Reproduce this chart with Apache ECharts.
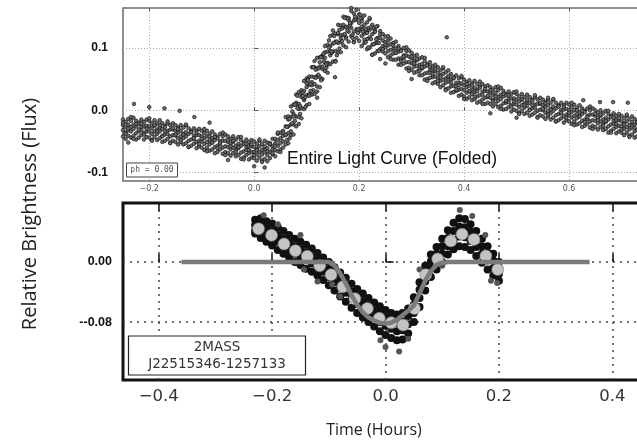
<!DOCTYPE html>
<html>
<head>
<meta charset="utf-8">
<script src="https://cdn.jsdelivr.net/npm/echarts@6/dist/echarts.min.js"></script>
<style>
  html, body { margin: 0; padding: 0; background: #fff; }
  #chart { width: 637px; height: 441px; }
</style>
</head>
<body>
<div id="chart"></div>
<script>
// ===== 上图：整条光变曲线（折叠）, y 值单位 0.001 flux =====
var topX = [
  -0.250,-0.245,-0.240,-0.235,-0.230,-0.225,-0.220,-0.215,-0.210,-0.205,
  -0.200,-0.195,-0.190,-0.185,-0.180,-0.175,-0.170,-0.165,-0.160,-0.155,
  -0.150,-0.145,-0.140,-0.135,-0.130,-0.125,-0.120,-0.115,-0.110,-0.105,
  -0.100,-0.095,-0.090,-0.085,-0.080,-0.075,-0.070,-0.065,-0.060,-0.055,
  -0.050,-0.045,-0.040,-0.035,-0.030,-0.025,-0.020,-0.015,-0.010,-0.005,
  0.000,0.005,0.010,0.015,0.020,0.025,0.030,0.035,0.040,0.045,
  0.050,0.055,0.060,0.065,0.070,0.075,0.080,0.085,0.090,0.095,
  0.100,0.105,0.110,0.115,0.120,0.125,0.130,0.135,0.140,0.145,
  0.150,0.155,0.160,0.165,0.170,0.175,0.180,0.185,0.190,0.195,
  0.200,0.205,0.210,0.215,0.220,0.225,0.230,0.235,0.240,0.245,
  0.250,0.255,0.260,0.265,0.270,0.275,0.280,0.285,0.290,0.295,
  0.300,0.305,0.310,0.315,0.320,0.325,0.330,0.335,0.340,0.345,
  0.350,0.355,0.360,0.365,0.370,0.375,0.380,0.385,0.390,0.395,
  0.400,0.405,0.410,0.415,0.420,0.425,0.430,0.435,0.440,0.445,
  0.450,0.455,0.460,0.465,0.470,0.475,0.480,0.485,0.490,0.495,
  0.500,0.505,0.510,0.515,0.520,0.525,0.530,0.535,0.540,0.545,
  0.550,0.555,0.560,0.565,0.570,0.575,0.580,0.585,0.590,0.595,
  0.600,0.605,0.610,0.615,0.620,0.625,0.630,0.635,0.640,0.645,
  0.650,0.655,0.660,0.665,0.670,0.675,0.680,0.685,0.690,0.695,
  0.700,0.705,0.710,0.715,0.720,0.725,0.730
];
var topA = [
  -15,-19,-14,-17,-12,-17,-20,-15,-19,-15,
  -17,-21,-16,-21,-16,-21,-25,-21,-24,-21,
  -24,-28,-24,-28,-24,-29,-33,-29,-33,-30,
  -33,-37,-33,-38,-34,-39,-43,-38,-42,-39,
  -42,-46,-42,-47,-43,-48,-52,-47,-51,-48,
  -50,-54,-49,-54,-49,-52,-53,-46,-46,-38,
  -36,-33,-11,-10,6,9,12,29,32,47,
  51,54,69,69,84,85,88,103,105,119,
  121,123,137,136,150,149,148,159,155,161,
  154,147,152,141,146,137,129,135,127,122,
  118,112,115,108,110,103,97,100,95,96,
  92,87,89,83,85,79,74,77,71,73,
  69,64,67,61,64,58,53,56,51,53,
  49,45,48,43,47,42,38,42,38,40,
  37,33,37,32,36,31,26,30,26,29,
  26,22,26,21,25,21,17,21,17,20,
  17,13,17,12,17,12,8,12,8,12,
  9,5,9,4,8,3,-1,3,0,3,
  0,-4,0,-5,-1,-6,-9,-5,-9,-6,
  -9,-13,-9,-14,-10,-14,-18
];
var topB = [
  -24,-27,-23,-27,-23,-26,-22,-27,-26,-25,
  -26,-29,-25,-31,-27,-30,-27,-33,-31,-31,
  -33,-36,-33,-38,-35,-38,-35,-41,-40,-40,
  -42,-45,-42,-48,-45,-48,-45,-50,-49,-49,
  -51,-54,-51,-57,-54,-57,-54,-59,-58,-58,
  -59,-62,-58,-64,-60,-61,-55,-58,-53,-48,
  -45,-41,-26,-26,-11,-6,9,10,21,31,
  37,41,54,53,67,70,85,84,94,103,
  107,110,122,120,133,134,145,140,144,145,
  140,134,137,125,129,122,126,116,116,112,
  109,104,106,98,99,94,95,88,88,86,
  83,79,80,73,74,70,72,65,64,63,
  60,56,58,51,53,49,51,44,44,43,
  40,37,39,33,36,33,36,30,31,30,
  28,25,28,22,25,22,24,18,19,19,
  17,14,17,11,14,12,15,9,10,10,
  8,5,8,2,6,3,6,0,1,2,
  0,-3,0,-6,-3,-6,-3,-9,-7,-7,
  -9,-12,-9,-15,-12,-15,-11,-17,-16,-16,
  -18,-21,-18,-24,-21,-23,-20
];
var topC = [
  -32,-36,-32,-34,-30,-37,-34,-32,-37,-34,
  -34,-38,-34,-38,-34,-41,-39,-38,-42,-40,
  -41,-45,-42,-45,-42,-49,-47,-46,-51,-49,
  -50,-54,-51,-55,-52,-59,-57,-55,-60,-58,
  -59,-63,-60,-64,-61,-68,-66,-64,-69,-67,
  -67,-71,-67,-71,-67,-72,-67,-63,-64,-57,
  -53,-50,-40,-37,-23,-23,-10,2,3,16,
  24,26,40,42,55,53,66,76,76,88,
  94,95,108,109,121,117,126,132,126,130,
  127,119,123,114,117,105,107,108,98,103,
  101,95,97,91,92,83,83,83,77,77,
  75,70,71,66,67,59,60,60,53,54,
  52,47,49,44,46,38,39,39,33,34,
  32,28,30,26,29,22,24,25,20,21,
  20,16,19,15,18,11,12,13,8,10,
  9,5,8,4,7,1,3,4,-1,1,
  0,-4,-1,-5,-1,-8,-6,-5,-10,-7,
  -8,-12,-9,-13,-10,-17,-15,-14,-18,-16,
  -17,-21,-18,-22,-19,-26,-23,-22,-27,-25,
  -26,-30,-27,-31,-28,-34,-32
];
var topD = [
  -42,-46,-41,-44,-41,-47,-44,-40,-47,-43,
  -44,-48,-43,-48,-45,-51,-49,-46,-52,-49,
  -51,-55,-51,-55,-53,-59,-57,-54,-61,-58,
  -60,-64,-60,-65,-63,-69,-67,-63,-70,-67,
  -69,-73,-69,-74,-72,-78,-76,-72,-79,-76,
  -77,-81,-76,-81,-78,-82,-77,-71,-74,-66,
  -63,-60,-55,-53,-40,-39,-26,-11,-13,2,
  8,10,25,26,38,37,50,63,60,74,
  78,79,93,93,104,101,110,119,110,116,
  111,103,108,98,100,89,91,95,82,94,
  91,85,88,81,81,73,73,75,67,68,
  65,60,62,56,56,49,50,52,43,45,
  42,37,40,34,35,28,29,31,23,25,
  22,18,21,16,18,12,14,17,10,12,
  10,6,10,5,7,1,2,5,-2,1,
  -1,-5,-1,-6,-4,-9,-7,-4,-11,-8,
  -10,-14,-10,-15,-12,-18,-16,-13,-20,-16,
  -18,-22,-18,-23,-21,-27,-25,-22,-28,-25,
  -27,-31,-27,-32,-30,-36,-33,-30,-37,-34,
  -36,-40,-36,-41,-39,-44,-42
];
var topE = [
  -20,-38,-29,-11,-46,-22,-31,-21,-39,-30,
  -13,-49,-24,-34,-24,-42,-34,-18,-53,-29,
  -39,-30,-48,-39,-23,-59,-35,-45,-36,-54,
  -46,-30,-66,-42,-52,-43,-61,-52,-36,-72,
  -48,-58,-49,-67,-59,-43,-79,-54,-64,-55,
  -72,-64,-47,-83,-58,-66,-54,-69,-57,-36,
  -67,-36,-39,-15,-34,-10,25,-22,26,19,
  43,23,45,79,30,77,70,93,73,95,
  128,78,124,115,137,115,134,164,109,148,
  130,143,113,124,148,89,126,109,122,98,
  105,119,82,104,92,99,79,86,101,63,
  86,75,82,63,69,84,47,70,58,66,
  47,54,69,32,55,44,52,33,40,55,
  18,42,31,40,22,30,46,10,34,23,
  32,14,22,38,2,26,15,24,6,14,
  30,-6,18,8,17,0,8,24,-12,12,
  2,11,-7,1,18,-18,6,-4,5,-12,
  -4,12,-24,0,-10,-1,-19,-11,6,-30,
  -6,-16,-7,-25,-17,-1,-36,-12,-22,-13,
  -31,-23,-7,-43,-19,-28,-19
];
// 上升沿与峰值附近的补充点
var riseX = [
  0.0625,0.0675,0.0725,0.0775,0.0825,0.0875,0.0925,0.0975,0.1025,0.1075,
  0.1125,0.1175,0.1225,0.1275,0.1325,0.1375,0.1425,0.1475,0.1525,0.1575,
  0.1625,0.1675,0.1725,0.1775,0.1825,0.1875,0.1925,0.1975,0.2025,0.2075,
  0.2125,0.2175,0.2225,0.2275,0.2325,0.2375
];
var riseP = [-48,-14,-21,9,3,-6,28,21,50,42,32,65,57,85,78,68,101,92,119,110,99,131,122,147,136,121,146,129,148,130,109,132,114,132,114,95];
var riseQ = [-27,-45,-2,-17,23,7,23,5,48,31,69,52,67,48,91,74,112,94,108,88,129,111,148,128,140,116,150,124,153,126,130,101,133,106,134,108];
// 上图离群点
var topOutX = [-0.229,-0.200,-0.171,-0.142,-0.114,-0.085,0.367,0.627,0.659,0.684,0.712,-0.050,0.000,0.020,0.154,0.120,0.250,0.300,0.450,0.500,-0.240,0.560];
var topOutY = [10,5,3,-1,-11,-20,117,16,13,13,12,-80,-90,-92,53,20,75,50,-5,-12,-52,20];

// ===== 下图：单次事件, y 值单位 0.001 flux =====
var botX = [
  -0.23,-0.22,-0.21,-0.20,-0.19,-0.18,-0.17,-0.16,-0.15,-0.14,
  -0.13,-0.12,-0.11,-0.10,-0.09,-0.08,-0.07,-0.06,-0.05,-0.04,
  -0.03,-0.02,-0.01,0.00,0.01,0.02,0.03,0.04,0.05,0.06,
  0.07,0.08,0.09,0.10,0.11,0.12,0.13,0.14,0.15,0.16,
  0.17,0.18,0.19,0.20
];
var botA = [56,58,54,51,46,41,36,31,27,23,18,12,6,0,-7,-14,-21,-29,-36,-42,-48,-54,-59,-64,-68,-70,-68,-62,-47,-27,-5,10,20,31,42,52,58,57,50,41,31,21,11,0];
var botB = [49,50,45,41,36,31,26,21,17,13,8,3,-3,-10,-17,-24,-31,-39,-46,-52,-58,-64,-69,-74,-78,-81,-79,-72,-57,-37,-15,1,11,21,32,41,47,46,40,31,21,12,2,-8];
var botC = [42,41,36,32,27,21,16,11,7,3,-2,-8,-13,-20,-27,-34,-41,-49,-56,-62,-68,-74,-80,-85,-89,-92,-91,-83,-68,-48,-26,-9,1,11,21,29,34,33,28,20,11,2,-8,-16];
var botD = [38,32,27,22,16,11,6,0,-4,-9,-13,-18,-24,-31,-38,-46,-53,-61,-68,-74,-80,-86,-92,-97,-101,-104,-103,-95,-80,-60,-38,-20,-10,0,10,17,21,20,16,8,-1,-10,-18,-25];
var botOutX = [-0.215,-0.150,-0.144,-0.094,-0.080,-0.009,0.000,0.024,0.131,0.153,0.176,0.197,0.186,-0.190,-0.120,0.040,0.100,0.060];
var botOutY = [62,36,-10,-30,-46,-104,-113,-119,69,61,36,-28,-25,50,-26,-102,-5,-10];

// 分箱平均点（浅灰大圆）
var binX = [-0.224,-0.201,-0.179,-0.159,-0.138,-0.116,-0.096,-0.075,-0.054,-0.032,-0.011,0.010,0.031,0.051,0.071,0.092,0.115,0.135,0.156,0.177,0.198];
var binY = [0.044,0.0355,0.024,0.015,0.0075,-0.005,-0.017,-0.033,-0.049,-0.062,-0.075,-0.081,-0.084,-0.062,-0.017,0.004,0.028,0.037,0.030,0.008,-0.010];

// 模型曲线（灰色粗线）
var modelX = [-0.36,-0.10,-0.09,-0.08,-0.07,-0.06,-0.05,-0.04,-0.03,-0.02,-0.01,0.00,0.01,0.02,0.03,0.04,0.05,0.06,0.07,0.08,0.09,0.10,0.11,0.36];
var modelY = [0,0,-0.005,-0.015,-0.029,-0.044,-0.057,-0.067,-0.074,-0.078,-0.081,-0.082,-0.081,-0.077,-0.071,-0.065,-0.058,-0.042,-0.025,-0.012,-0.004,-0.001,0,0];

// 刻度
var topXTicks = [-0.2, 0, 0.2, 0.4, 0.6];
var topYTicks = [-0.1, 0, 0.1];
var botXTicks = [-0.4, -0.2, 0, 0.2, 0.4];
var botYTicks = [-0.08, 0];

// 列数据 -> 点
function cols(xs, rows) {
  var out = [];
  rows.forEach(function(r) {
    xs.forEach(function(x, i) { out.push([x, r[i] / 1000]); });
  });
  return out;
}
function pairs(xs, ys, k) {
  return xs.map(function(x, i) { return [x, ys[i] / k]; });
}
function minusFmt(v) {
  return (v < 0 ? '\u2212' : '') + Math.abs(v).toFixed(1);
}

var chart = echarts.init(document.getElementById('chart'), null, { renderer: 'canvas' });

var topXBase = {
  type: 'value', gridIndex: 0, min: -0.25, max: 0.76,
  axisLine: { show: false }
};
var botXBase = {
  type: 'value', gridIndex: 1, min: -0.463, max: 0.47,
  axisLine: { show: false }
};
var smallDot = { color: '#6e6e6e', borderColor: '#111', borderWidth: 0.7, opacity: 1 };

var option = {
  animation: false,
  backgroundColor: '#fff',
  grid: [
    { left: 123, top: 8, width: 530, height: 173, outerBoundsMode: 'none', containLabel: false,
      show: true, borderColor: '#6a6a6a', borderWidth: 1.5, backgroundColor: 'transparent' },
    { left: 123, top: 203, width: 529, height: 177, outerBoundsMode: 'none', containLabel: false,
      show: true, borderColor: '#111', borderWidth: 3, backgroundColor: 'transparent' }
  ],
  xAxis: [
    Object.assign({}, topXBase, {
      position: 'bottom',
      axisTick: { inside: true, length: 3, customValues: topXTicks, lineStyle: { color: '#555' } },
      axisLabel: { customValues: topXTicks, formatter: minusFmt, fontSize: 8, color: '#555', fontFamily: 'DejaVu Sans', margin: 4 },
      splitLine: { show: true, lineStyle: { color: '#aaa', width: 1, type: [1, 2] } }
    }),
    Object.assign({}, botXBase, {
      position: 'bottom',
      axisTick: { inside: true, length: 8, customValues: botXTicks, lineStyle: { color: '#111', width: 1.5 } },
      axisLabel: { customValues: botXTicks, formatter: minusFmt, fontSize: 16.5, color: '#333', fontFamily: 'DejaVu Sans', margin: 8 },
      splitLine: { show: true, lineStyle: { color: '#444', width: 1.5, type: [2, 5] } }
    }),
    // 顶边刻度
    Object.assign({}, topXBase, {
      position: 'top',
      axisTick: { inside: true, length: 3, customValues: topXTicks, lineStyle: { color: '#555' } },
      axisLabel: { show: false }, splitLine: { show: false }
    }),
    Object.assign({}, botXBase, {
      position: 'top',
      axisTick: { inside: true, length: 8, customValues: botXTicks, lineStyle: { color: '#111', width: 1.5 } },
      axisLabel: { show: false }, splitLine: { show: false }
    })
  ],
  yAxis: [
    {
      type: 'value', gridIndex: 0, min: -0.1136, max: 0.164,
      axisLine: { show: false },
      axisTick: { inside: true, length: 4, customValues: topYTicks, lineStyle: { color: '#555' } },
      axisLabel: {
        customValues: topYTicks, fontSize: 12, fontWeight: 'bold', color: '#111',
        fontFamily: 'Liberation Sans', margin: 15,
        formatter: function(v) { return v.toFixed(1); }
      },
      splitLine: { show: true, lineStyle: { color: '#aaa', width: 1, type: [1, 2] } }
    },
    {
      type: 'value', gridIndex: 1, min: -0.157, max: 0.0784,
      axisLine: { show: false },
      axisTick: { inside: true, length: 8, customValues: botYTicks, lineStyle: { color: '#111', width: 1.5 } },
      axisLabel: {
        customValues: botYTicks, fontSize: 12.5, fontWeight: 'bold', color: '#111',
        fontFamily: 'Liberation Sans', margin: 11,
        formatter: function(v) { return v < 0 ? '--' + Math.abs(v).toFixed(2) : v.toFixed(2); }
      },
      splitLine: { show: true, lineStyle: { color: '#444', width: 1.5, type: [2, 5] } }
    }
  ],
  series: [
    {
      name: 'folded', type: 'scatter', xAxisIndex: 0, yAxisIndex: 0, silent: true,
      symbolSize: 3.6, itemStyle: smallDot,
      data: cols(topX, [topA, topB, topC, topD, topE]).concat(cols(riseX, [riseP, riseQ]))
    },
    {
      name: 'folded-out', type: 'scatter', xAxisIndex: 0, yAxisIndex: 0, silent: true,
      symbolSize: 3.6, itemStyle: smallDot,
      data: pairs(topOutX, topOutY, 1000)
    },
    {
      name: 'event', type: 'scatter', xAxisIndex: 1, yAxisIndex: 1, silent: true,
      symbolSize: 8,
      itemStyle: { color: '#111', opacity: 1 },
      data: cols(botX, [botA, botB, botC, botD])
    },
    {
      name: 'event-out', type: 'scatter', xAxisIndex: 1, yAxisIndex: 1, silent: true,
      symbolSize: 6,
      itemStyle: { color: '#555', opacity: 1 },
      data: pairs(botOutX, botOutY, 1000)
    },
    {
      name: 'model', type: 'line', xAxisIndex: 1, yAxisIndex: 1, silent: true,
      showSymbol: false, smooth: false,
      lineStyle: { color: '#7b7b7b', width: 4.5 },
      data: pairs(modelX, modelY, 1)
    },
    {
      name: 'binned', type: 'scatter', xAxisIndex: 1, yAxisIndex: 1, silent: true,
      symbolSize: 12,
      itemStyle: { color: '#c4c4c4', borderColor: '#777', borderWidth: 0.6, opacity: 1 },
      data: pairs(binX, binY, 1)
    }
  ],
  graphic: [
    {
      type: 'text', x: 392, y: 159, z: 100,
      style: { text: 'Entire Light Curve (Folded)', font: '17.5px "Liberation Sans"', fill: '#111', align: 'center', verticalAlign: 'middle' }
    },
    {
      type: 'rect', z: 100,
      shape: { x: 126.5, y: 163, width: 51, height: 14 },
      style: { fill: '#fff', stroke: '#444', lineWidth: 1 }
    },
    {
      type: 'text', x: 152, y: 170, z: 101,
      style: { text: 'ph = 0.00', font: '8px "DejaVu Sans Mono"', fill: '#555', align: 'center', verticalAlign: 'middle' }
    },
    {
      type: 'rect', z: 100,
      shape: { x: 128.5, y: 336, width: 177, height: 39 },
      style: { fill: '#fff', stroke: '#222', lineWidth: 1.2 }
    },
    {
      type: 'text', x: 217, y: 347, z: 101,
      style: { text: '2MASS', font: '13.5px "DejaVu Sans"', fill: '#333', align: 'center', verticalAlign: 'middle' }
    },
    {
      type: 'text', x: 217, y: 364, z: 101,
      style: { text: 'J22515346-1257133', font: '13.5px "DejaVu Sans"', fill: '#333', align: 'center', verticalAlign: 'middle' }
    },
    {
      type: 'text', x: 374, y: 430, z: 100,
      style: { text: 'Time (Hours)', font: '16px "Open Sans"', fill: '#222', align: 'center', verticalAlign: 'middle' }
    },
    {
      type: 'text', x: 30, y: 214, z: 100, rotation: Math.PI / 2,
      style: { text: 'Relative Brightness (Flux)', font: '20px "Open Sans"', fill: '#222', align: 'center', verticalAlign: 'middle' }
    }
  ]
};

chart.setOption(option);
</script>
</body>
</html>
